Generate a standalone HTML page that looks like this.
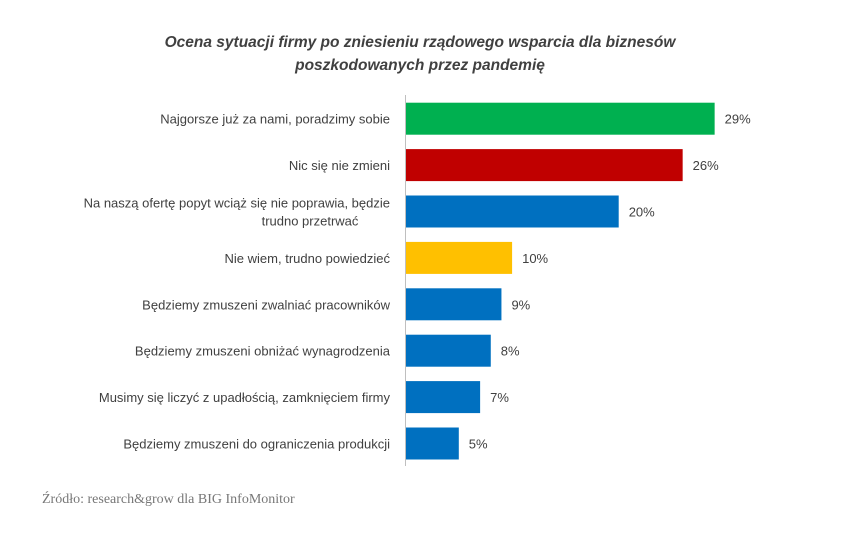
<!DOCTYPE html>
<html><head><meta charset="utf-8"><style>
body{margin:0;background:#fff;}
svg{display:block}
</style></head><body>
<svg width="851" height="537" xmlns="http://www.w3.org/2000/svg">
<text x="420" y="47" text-anchor="middle" font-family="Liberation Sans, sans-serif" font-size="15.5" font-weight="bold" font-style="italic" fill="#404040">Ocena sytuacji firmy po zniesieniu rządowego wsparcia dla biznesów</text>
<text x="420" y="70" text-anchor="middle" font-family="Liberation Sans, sans-serif" font-size="15.5" font-weight="bold" font-style="italic" fill="#404040">poszkodowanych przez pandemię</text>
<g id="bars"></g>
<line x1="405.5" y1="95" x2="405.5" y2="466" stroke="#bfbfbf" stroke-width="1"/>
<text x="42" y="503" font-family="Liberation Serif, serif" font-size="14" fill="#777">Źródło: research&amp;grow dla BIG InfoMonitor</text>
</svg>
<script>
const categories=[["Najgorsze już za nami, poradzimy sobie"],["Nic się nie zmieni"],["Na naszą ofertę popyt wciąż się nie poprawia, będzie","trudno przetrwać"],["Nie wiem, trudno powiedzieć"],["Będziemy zmuszeni zwalniać pracowników"],["Będziemy zmuszeni obniżać wynagrodzenia"],["Musimy się liczyć z upadłością, zamknięciem firmy"],["Będziemy zmuszeni do ograniczenia produkcji"]];
const values=[29,26,20,10,9,8,7,5];
const valueLabels=["29%","26%","20%","10%","9%","8%","7%","5%"];
const colors=["#00b050","#c00000","#0070c0","#ffc000","#0070c0","#0070c0","#0070c0","#0070c0"];
const NS="http://www.w3.org/2000/svg";
const x0=405.5, pxPer=10.66, yTop=95.5, band=46.4, bh=32;
const xs=v=>x0+v*pxPer;
const yc=i=>yTop+band*(i+0.5);
const g=document.getElementById('bars');
values.forEach((v,i)=>{
  const r=document.createElementNS(NS,'rect');
  r.setAttribute('x',x0);r.setAttribute('y',yc(i)-bh/2);
  r.setAttribute('width',xs(v)-x0);r.setAttribute('height',bh);
  r.setAttribute('fill',colors[i]);
  
  
  g.appendChild(r);
  const t=document.createElementNS(NS,'text');
  t.setAttribute('x',xs(v)+10);t.setAttribute('y',yc(i)+5);
  t.setAttribute('font-family','Liberation Sans, sans-serif');t.setAttribute('font-size','13');t.setAttribute('fill','#404040');
  t.textContent=valueLabels[i];
  
  
  g.appendChild(t);
  const lines=categories[i];
  lines.forEach((ln,j)=>{
    const c=document.createElementNS(NS,'text');
    const off=lines.length===1?5:(j===0?-4:14);
    c.setAttribute('x',lines.length===1?390:(j===0?390:310));
    c.setAttribute('y',yc(i)+off);
    c.setAttribute('text-anchor',lines.length===1||j===0?'end':'middle');
    c.setAttribute('font-family','Liberation Sans, sans-serif');c.setAttribute('font-size','13');c.setAttribute('fill','#404040');
    c.textContent=ln;
    
    
    g.appendChild(c);
  });
});
</script>
</body></html>
